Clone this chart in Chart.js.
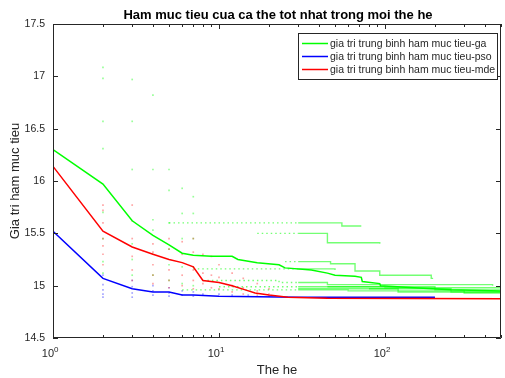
<!DOCTYPE html>
<html lang="en">
<head>
<meta charset="UTF-8" />
<title>Ham muc tieu</title>
<script src="https://cdn.jsdelivr.net/npm/chart.js@4.4.0/dist/chart.umd.min.js"></script>
<style>
  body { margin: 0; background: #fff; }
</style>
</head>
<body>
<canvas id="myChart" width="505" height="378"></canvas>
<script>
// gia tri trung binh (duong chinh)
const gaGen  = [1, 2, 3, 4, 5, 6, 7, 9, 12, 13, 17, 23, 25, 36, 45, 50, 66, 72, 73, 93, 94, 150, 250, 500];
const gaMean = [16.30, 15.97, 15.62, 15.48, 15.39, 15.31, 15.29, 15.28, 15.28, 15.25, 15.22, 15.20, 15.17, 15.15, 15.12, 15.10, 15.09, 15.08, 15.04, 15.02, 15.00, 14.98, 14.96, 14.95];

const psoGen  = [1, 2, 3, 4, 5, 6, 7, 10, 30, 200];
const psoMean = [15.52, 15.07, 14.97, 14.94, 14.94, 14.91, 14.91, 14.90, 14.89, 14.89];

const mdeGen  = [1, 2, 3, 4, 5, 6, 7, 8, 10, 12, 14.4, 16.5, 20, 26, 45, 500];
const mdeMean = [16.14, 15.52, 15.37, 15.30, 15.25, 15.22, 15.18, 15.05, 15.03, 15.00, 14.96, 14.93, 14.91, 14.89, 14.88, 14.875];

// cac lan chay rieng cua ga (bac thang)
const gaRuns = [
  { gen: [5, 30, 55, 72],      val: [15.60, 15.60, 15.57, 15.57] },
  { gen: [17, 30, 45, 93],     val: [15.50, 15.50, 15.41, 15.40] },
  { gen: [25, 30, 47, 66, 93, 190, 195], val: [15.23, 15.23, 15.21, 15.14, 15.10, 15.07, 15.07] },
  { gen: [7, 30, 50],          val: [15.16, 15.16, 15.15] },
  { gen: [8, 23, 30, 45, 445], val: [15.05, 15.03, 15.03, 15.01, 15.00] },
  { gen: [10, 30, 100, 500],   val: [14.99, 14.99, 14.98, 14.97] },
  { gen: [6, 30, 60, 300, 500], val: [14.96, 14.96, 14.95, 14.93, 14.92] },
  { gen: [30, 120, 500],       val: [14.97, 14.94, 14.91] },
  { gen: [45, 200, 500],       val: [14.99, 14.96, 14.95] },
  { gen: [80, 250, 500],       val: [14.97, 14.94, 14.93] }
];

// diem rai rac cua tung lan chay
const gaDotGen = [1, 1, 1, 1, 2, 2, 2, 2, 2, 2, 2, 2, 3, 3, 3, 3, 3, 3, 4, 4, 4, 4, 4, 4, 5, 5, 5, 5, 5, 5, 6, 6, 6, 6, 6, 7, 7, 7, 7, 7];
const gaDotVal = [17.45, 17.0, 16.8, 16.3, 17.085, 16.98, 16.57, 16.31, 15.70, 15.45, 15.23, 15.12, 16.97, 16.57, 16.11, 15.40, 15.25, 15.10, 16.82, 16.11, 15.63, 15.53, 15.30, 15.10, 16.11, 15.91, 15.60, 15.35, 15.20, 15.05, 15.93, 15.69, 15.45, 15.18, 15.02, 15.85, 15.69, 15.45, 15.18, 15.00];

const mdeDotGen = [1, 1, 1, 2, 2, 2, 2, 2, 2, 2, 3, 3, 3, 3, 3, 3, 4, 4, 4, 4, 4, 5, 5, 5, 5, 5, 6, 6, 6, 6, 7, 7, 7, 7, 7, 8, 8, 8, 9, 9, 9, 10, 10, 10, 12, 12, 12, 14, 14, 14, 17, 17, 17, 20, 20];
const mdeDotVal = [16.6, 15.85, 15.3, 15.77, 15.72, 15.60, 15.45, 15.38, 15.30, 15.20, 15.77, 15.62, 15.45, 15.28, 15.15, 15.05, 15.40, 15.32, 15.20, 15.10, 15.02, 15.45, 15.35, 15.15, 15.05, 14.98, 15.42, 15.30, 15.10, 15.00, 15.45, 15.32, 15.15, 15.05, 14.97, 15.30, 15.12, 15.02, 15.28, 15.10, 14.98, 15.20, 15.08, 14.97, 15.12, 15.00, 14.94, 15.07, 14.98, 14.92, 15.02, 14.95, 14.91, 14.97, 14.92];

const psoDotGen = [1, 1, 1, 2, 2, 2, 2, 2, 3, 3, 3, 3, 4, 4, 4, 5, 5, 5, 6, 6, 7, 7, 8, 10, 12, 15, 20];
const psoDotVal = [16.55, 15.9, 15.35, 15.10, 15.01, 14.96, 14.92, 14.89, 15.05, 14.99, 14.93, 14.89, 15.00, 14.95, 14.91, 14.98, 14.93, 14.90, 14.95, 14.91, 14.94, 14.90, 14.92, 14.92, 14.91, 14.91, 14.90];

const legendLabels = ['gia tri trung binh ham muc tieu-ga', 'gia tri trung binh ham muc tieu-pso', 'gia tri trung binh ham muc tieu-mde'];
const xMajor = [1, 10, 100];
const xExp = ['0', '1', '2'];
const xMinor = [2, 3, 4, 5, 6, 7, 8, 9, 20, 30, 40, 50, 60, 70, 80, 90, 200, 300, 400, 500];
const yTicks = [14.5, 15, 15.5, 16, 16.5, 17, 17.5];

function pts(g, v) {
  return g.map((x, i) => ({ x: x, y: v[i] }));
}

const cGa = 'rgb(0,255,0)';
const cPso = 'rgb(0,0,255)';
const cMde = 'rgb(255,0,0)';
const axisCol = '#262626';
const fam = '"Liberation Sans", Arial, sans-serif';

const datasets = [
  { label: legendLabels[2], data: pts(mdeGen, mdeMean), borderColor: cMde, borderWidth: 1.5, pointRadius: 0 },
  { label: legendLabels[1], data: pts(psoGen, psoMean), borderColor: cPso, borderWidth: 1.5, pointRadius: 0 },
  { label: legendLabels[0], data: pts(gaGen, gaMean), borderColor: cGa, borderWidth: 1.5, pointRadius: 0 }
];
gaRuns.forEach(r => {
  datasets.push({
    data: pts(r.gen, r.val), borderColor: 'rgba(0,255,0,0.55)', borderWidth: 1.4,
    pointRadius: 0, stepped: true,
    segment: { borderDash: c => (c.p1.parsed.x <= 30 ? [1.5, 3] : undefined) }
  });
});
datasets.push({ data: pts(mdeDotGen, mdeDotVal), showLine: false, pointStyle: 'rect', pointRadius: 1.2, borderWidth: 0, backgroundColor: 'rgba(255,0,0,0.35)' });
datasets.push({ data: pts(psoDotGen, psoDotVal), showLine: false, pointStyle: 'rect', pointRadius: 1.2, borderWidth: 0, backgroundColor: 'rgba(0,0,255,0.35)' });
datasets.push({ data: pts(gaDotGen, gaDotVal), showLine: false, pointStyle: 'rect', pointRadius: 1.2, borderWidth: 0, backgroundColor: 'rgba(0,255,0,0.4)' });

// khung, vach chia huong vao trong, nhan 10^n, tieu de, chu thich
const frame = {
  id: 'frame',
  afterDatasetsDraw(chart) {
    const { ctx, chartArea: a, scales: { x, y } } = chart;
    ctx.save();
    ctx.strokeStyle = axisCol;
    ctx.lineWidth = 1;
    ctx.beginPath();
    ctx.rect(a.left + 0.5, a.top + 0.5, a.right - a.left - 1, a.bottom - a.top - 1);
    const tickX = (v, len) => {
      const px = Math.round(x.getPixelForValue(v)) + 0.5;
      ctx.moveTo(px, a.bottom); ctx.lineTo(px, a.bottom - len);
      ctx.moveTo(px, a.top); ctx.lineTo(px, a.top + len);
    };
    xMajor.forEach(v => tickX(v, 5));
    xMinor.forEach(v => tickX(v, 3));
    yTicks.forEach(v => {
      const py = Math.round(y.getPixelForValue(v)) + 0.5;
      ctx.moveTo(a.left, py); ctx.lineTo(a.left + 5, py);
      ctx.moveTo(a.right, py); ctx.lineTo(a.right - 5, py);
    });
    ctx.stroke();

    // nhan truc x
    ctx.fillStyle = axisCol;
    ctx.textBaseline = 'alphabetic';
    xMajor.forEach((v, i) => {
      const px = x.getPixelForValue(v);
      ctx.font = '11px ' + fam;
      ctx.textAlign = 'right';
      ctx.fillText('10', px + 1, 357);
      ctx.font = '8px ' + fam;
      ctx.textAlign = 'left';
      ctx.fillText(xExp[i], px + 1, 351.5);
    });

    // tieu de
    ctx.fillStyle = '#000';
    ctx.font = 'bold 13px ' + fam;
    ctx.textAlign = 'center';
    ctx.fillText('Ham muc tieu cua ca the tot nhat trong moi the he', 278, 18.5);

    // chu thich
    ctx.fillStyle = '#fff';
    ctx.fillRect(298.5, 33.5, 199, 46);
    ctx.strokeStyle = axisCol;
    ctx.strokeRect(298.5, 33.5, 199, 46);
    const cols = [cGa, cPso, cMde];
    const rows = [43.5, 56.5, 69.5];
    ctx.font = '10.5px ' + fam;
    ctx.textAlign = 'left';
    ctx.textBaseline = 'middle';
    legendLabels.forEach((t, i) => {
      ctx.strokeStyle = cols[i];
      ctx.lineWidth = 1.5;
      ctx.beginPath();
      ctx.moveTo(302, rows[i]); ctx.lineTo(328, rows[i]);
      ctx.stroke();
      ctx.fillStyle = axisCol;
      ctx.fillText(t, 330, rows[i] + 0.5);
    });
    ctx.restore();
  }
};

const ctx = document.getElementById('myChart').getContext('2d');
const myChart = new Chart(ctx, {
  type: 'line',
  data: { datasets: datasets },
  options: {
    responsive: false,
    animation: false,
    layout: { padding: { top: 24, right: 1, left: 0, bottom: 0 } },
    elements: { line: { tension: 0 } },
    plugins: { legend: { display: false }, tooltip: { enabled: false } },
    scales: {
      x: {
        type: 'logarithmic',
        min: 1,
        max: 500,
        afterBuildTicks: s => { s.ticks = xMajor.map(v => ({ value: v })); },
        afterFit: s => { s.height = 40; },
        grid: { display: false },
        border: { display: false },
        ticks: { display: false },
        title: { display: true, text: 'The he', color: axisCol, font: { family: fam, size: 13 }, padding: { top: 0, bottom: 0 } }
      },
      y: {
        type: 'linear',
        min: 14.5,
        max: 17.5,
        afterFit: s => { s.width = 53; },
        grid: { display: false, drawTicks: false },
        border: { display: false },
        ticks: { stepSize: 0.5, padding: 8, color: axisCol, font: { family: fam, size: 10.5 }, callback: v => String(v) },
        title: { display: true, text: 'Gia tri ham muc tieu', color: axisCol, font: { family: fam, size: 13 }, padding: { top: 8, bottom: 0 } }
      }
    }
  },
  plugins: [frame]
});
</script>
</body>
</html>
